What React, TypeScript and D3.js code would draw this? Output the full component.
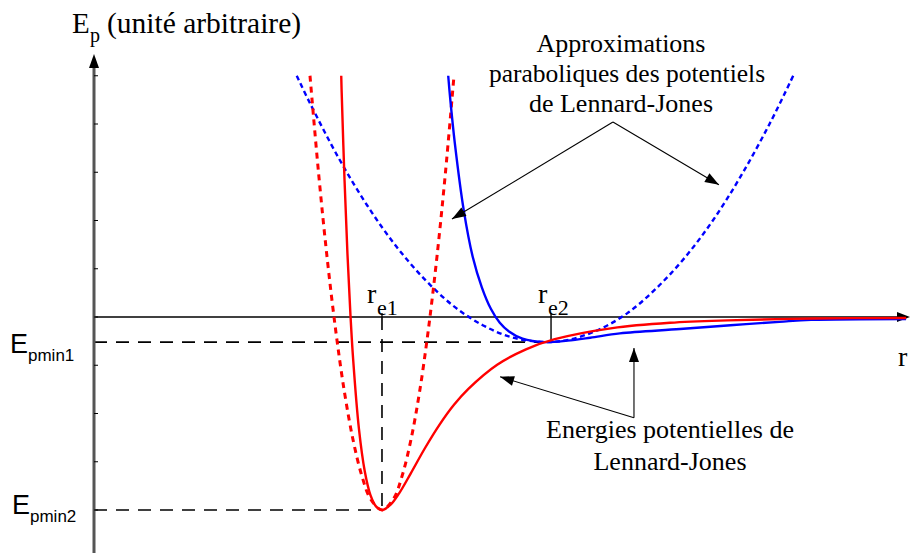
import React from "react";
import * as d3 from "d3";

const W = 910;
const H = 556;

// Lennard-Jones potential of the deeper well, [r, Ep]
const ljDeep: [number, number][] = [
  [0.8585, 5.0], [0.86, 4.66], [0.87, 2.83], [0.88, 1.32], [0.89, 0.1], [0.9, -0.89],
  [0.92, -2.32], [0.94, -3.19], [0.96, -3.69], [0.98, -3.93], [1.0, -4.0], [1.03, -3.89],
  [1.06, -3.65], [1.1, -3.24], [1.15, -2.71], [1.2, -2.23], [1.25, -1.82], [1.3, -1.49],
  [1.4, -0.99], [1.5, -0.67], [1.6, -0.46], [1.8, -0.23], [2.0, -0.12], [2.2, -0.07],
  [2.5, -0.03], [2.82, -0.02],
];

// parabolic approximation of the deeper well
const parabolaDeep: [number, number][] = [
  [0.75, 5.0], [0.78, 2.97], [0.81, 1.2], [0.84, -0.31], [0.87, -1.57], [0.9, -2.56],
  [0.93, -3.29], [0.96, -3.77], [1.0, -4.0], [1.04, -3.77], [1.07, -3.29], [1.1, -2.56],
  [1.13, -1.57], [1.16, -0.31], [1.19, 1.2], [1.22, 2.97], [1.25, 5.0],
];

// Lennard-Jones potential of the shallow well
const ljShallow: [number, number][] = [
  [1.23, 5.0], [1.237, 4.52], [1.253, 3.6], [1.284, 2.21], [1.315, 1.25], [1.347, 0.61],
  [1.378, 0.17], [1.409, -0.12], [1.441, -0.3], [1.488, -0.45], [1.566, -0.52],
  [1.644, -0.49], [1.723, -0.43], [1.826, -0.34], [2.035, -0.25], [2.21, -0.17],
  [2.38, -0.1], [2.49, -0.06], [2.82, -0.04],
];

// parabolic approximation of the shallow well
const parabolaShallow: [number, number][] = [
  [0.704, 5.0], [0.75, 4.43], [0.85, 3.29], [0.95, 2.3], [1.05, 1.46], [1.15, 0.77],
  [1.25, 0.22], [1.35, -0.17], [1.45, -0.42], [1.566, -0.52], [1.65, -0.47], [1.75, -0.27],
  [1.85, 0.07], [1.95, 0.58], [2.05, 1.22], [2.15, 2.01], [2.25, 2.96], [2.35, 4.05],
  [2.428, 5.0],
];

const yTicks = [-4, -3, -2, -1, 0, 1, 2, 3, 4, 5];

// equilibrium distances and well depths
const rE1 = 1.0;
const rE2 = 1.587;
const epMin1 = -0.52;
const epMin2 = -4.0;

// annotation arrows: [vertex, tip] in data units
const arrowsParabola: [number, number][][] = [
  [[1.802, 4.04], [1.243, 2.03]],
  [[1.802, 4.04], [2.17, 2.74]],
];
const arrowsLJ: [number, number][][] = [
  [[1.875, -2.09], [1.41, -1.24]],
  [[1.875, -2.09], [1.875, -0.64]],
];

const topNote = ["Approximations", "paraboliques des potentiels", "de Lennard-Jones"];
const bottomNote = ["Energies potentielles de", "Lennard-Jones"];

const SERIF = "'Liberation Serif', 'Times New Roman', serif";
const SANS = "'Liberation Sans', Arial, sans-serif";

const x = d3.scaleLinear().domain([0, 2.83]).range([94, 909]);
const y = d3.scaleLinear().domain([-4, 5]).range([510, 75.75]);

const line = d3
  .line<[number, number]>()
  .x((d) => x(d[0]))
  .y((d) => y(d[1]))
  .curve(d3.curveCatmullRom.alpha(0.5));

function head(x1: number, y1: number, x2: number, y2: number, len: number, half: number) {
  const a = Math.atan2(y2 - y1, x2 - x1);
  const bx = x2 - len * Math.cos(a);
  const by = y2 - len * Math.sin(a);
  const px = -Math.sin(a) * half;
  const py = Math.cos(a) * half;
  return `M${x2},${y2}L${bx + px},${by + py}L${bx - px},${by - py}Z`;
}

function Arrow({ from, to }: { from: [number, number]; to: [number, number] }) {
  const x1 = x(from[0]);
  const y1 = y(from[1]);
  const x2 = x(to[0]);
  const y2 = y(to[1]);
  return (
    <g>
      <line x1={x1} y1={y1} x2={x2} y2={y2} stroke="#000" strokeWidth={1.1} />
      <path d={head(x1, y1, x2, y2, 14, 5)} fill="#000" />
    </g>
  );
}

export default function App() {
  const x0 = x(0);
  const y0 = y(0);
  return (
    <svg
      width={W}
      height={H}
      viewBox={`0 0 ${W} ${H}`}
      style={{ position: "absolute", left: 0, top: 0, background: "#fff" }}
    >
      {/* horizontal axis */}
      <line x1={x0} y1={y0} x2={897} y2={y0} stroke="#000" strokeWidth={1.3} />
      <path d={head(x0, y0, 910, y0, 13, 5)} fill="#000" />

      {/* reference lines */}
      <line x1={x0} y1={y(epMin1)} x2={x(rE2)} y2={y(epMin1)} stroke="#000" strokeWidth={1.6} strokeDasharray="13 9" />
      <line x1={x0} y1={y(epMin2)} x2={x(rE1)} y2={y(epMin2)} stroke="#000" strokeWidth={1.6} strokeDasharray="13 9" />
      <line x1={x(rE1)} y1={y0} x2={x(rE1)} y2={y(epMin2)} stroke="#000" strokeWidth={1.6} strokeDasharray="13 9" />
      <line x1={x(rE1)} y1={y0 - 4} x2={x(rE1)} y2={y0} stroke="#000" strokeWidth={1.3} />
      <line x1={x(rE2)} y1={y0 - 4} x2={x(rE2)} y2={y(epMin1)} stroke="#000" strokeWidth={1.4} />

      {/* potential curves */}
      <path d={line(parabolaShallow) ?? ""} fill="none" stroke="#0000ff" strokeWidth={2.4} strokeDasharray="5 3.5" />
      <path d={line(parabolaDeep) ?? ""} fill="none" stroke="#ff0000" strokeWidth={3} strokeDasharray="6 5" />
      <path d={line(ljShallow) ?? ""} fill="none" stroke="#0000ff" strokeWidth={2.4} />
      <path d={line(ljDeep) ?? ""} fill="none" stroke="#ff0000" strokeWidth={2.4} />

      {/* vertical axis */}
      <line x1={x0} y1={553} x2={x0} y2={67} stroke="#555" strokeWidth={3} />
      <path d={head(x0, 100, x0, 54, 14, 5)} fill="#000" />
      {yTicks.map((t) => (
        <line key={t} x1={x0} y1={y(t)} x2={x0 + 4} y2={y(t)} stroke="#000" strokeWidth={1} />
      ))}

      {/* annotation arrows */}
      {arrowsParabola.map((a, i) => (
        <Arrow key={`p${i}`} from={a[0]} to={a[1]} />
      ))}
      {arrowsLJ.map((a, i) => (
        <Arrow key={`l${i}`} from={a[0]} to={a[1]} />
      ))}

      {/* axis titles */}
      <g fontFamily={SERIF} fill="#000">
        <text x={72} y={33} fontSize={29}>E</text>
        <text x={90} y={42} fontSize={20}>p</text>
        <text x={107} y={33} fontSize={29.5}>(unité arbitraire)</text>
        <text x={898} y={366} fontSize={28}>r</text>

        <text x={367} y={303} fontSize={28}>r</text>
        <text x={377} y={315} fontSize={22}>e1</text>
        <text x={538} y={303} fontSize={28}>r</text>
        <text x={548} y={315} fontSize={22}>e2</text>

        {topNote.map((s, i) => (
          <text key={s} x={i === 1 ? 627 : 621} y={52 + i * 30} fontSize={i === 1 ? 25.5 : 26} textAnchor="middle">
            {s}
          </text>
        ))}
        {bottomNote.map((s, i) => (
          <text key={s} x={670} y={438 + i * 32} fontSize={26} textAnchor="middle">
            {s}
          </text>
        ))}
      </g>

      <g fontFamily={SANS} fill="#000">
        <text x={10} y={353} fontSize={27}>E</text>
        <text x={28} y={361} fontSize={17}>pmin1</text>
        <text x={12} y={514} fontSize={27}>E</text>
        <text x={30} y={522} fontSize={17}>pmin2</text>
      </g>
    </svg>
  );
}
